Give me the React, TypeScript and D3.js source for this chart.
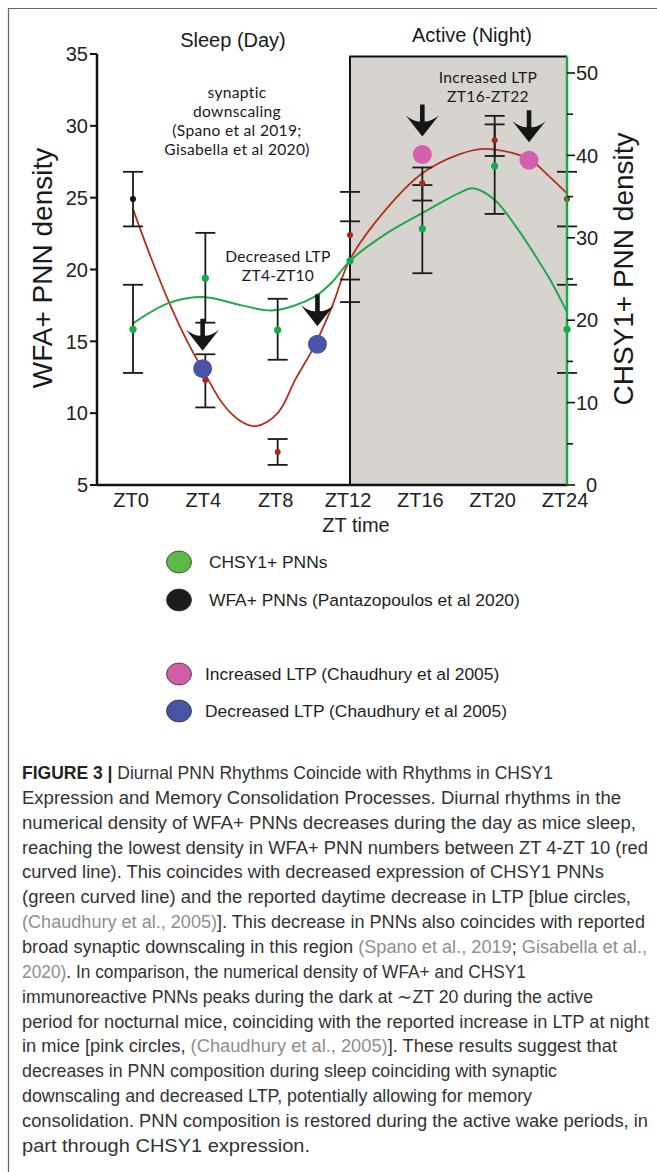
import React, { useEffect, useRef } from 'react';
import * as d3 from 'd3';

// x axis
const ztTicks = [0, 4, 8, 12, 16, 20, 24];
const ztLabels = ['ZT0', 'ZT4', 'ZT8', 'ZT12', 'ZT16', 'ZT20', 'ZT24'];
const leftTicks = [5, 10, 15, 20, 25, 30, 35];
const rightTicks = [0, 10, 20, 30, 40, 50];
const rightMinor = [5, 15, 25, 35, 45];

// WFA+ PNN density (left axis), mean and error bar ends
const wfaMean = [24.9, 12.3, 7.3, 22.4, 26.0, 29.0, 24.9];
const wfaLow = [23.0, 10.4, 6.4, 19.3, 24.8, 27.9, 23.0];
const wfaHigh = [26.8, 14.1, 8.2, 25.4, 27.1, 30.1, 26.8];

// CHSY1+ PNN density (right axis)
const chsyMean = [18.9, 25.1, 18.8, 27.2, 31.1, 38.7, 18.9];
const chsyLow = [13.6, 19.7, 15.2, 22.2, 25.7, 32.9, 13.6];
const chsyHigh = [24.3, 30.6, 22.6, 32.0, 36.4, 44.8, 24.3];

// fitted curves
const wfaFitZt = [0, 1, 2, 3, 4, 5, 6, 6.8, 8, 9, 10, 11, 12, 14, 16, 18, 19.4, 21, 22, 23, 24];
const wfaFitVal = [24.2, 20.8, 17.7, 15.0, 12.7, 10.6, 9.4, 9.1, 10.0, 12.4, 14.6, 17.4, 20.7, 24.2, 26.7, 28.0, 28.4, 28.1, 27.6, 26.5, 25.3];
const chsyFitZt = [0, 2, 4, 6, 7.8, 10, 11, 12, 14, 16, 18, 18.8, 20, 21.2, 22.2, 23.1, 24];
const chsyFitVal = [19.6, 22.1, 22.8, 21.8, 21.2, 22.8, 24.6, 27.2, 30.5, 33.0, 35.4, 36.0, 34.6, 31.3, 28.0, 24.8, 21.0];

// LTP markers (left axis units)
const ltpDecZt = [3.85, 10.2];
const ltpDecVal = [13.1, 14.8];
const ltpIncZt = [16, 21.9];
const ltpIncVal = [28.0, 27.6];

const legendItems = [
  { label: 'CHSY1+ PNNs', color: '#5cb947' },
  { label: 'WFA+ PNNs (Pantazopoulos et al 2020)', color: '#1c1c1c' },
  { label: 'Increased LTP (Chaudhury et al 2005)', color: '#d25ca8' },
  { label: 'Decreased LTP (Chaudhury et al 2005)', color: '#4654a3' },
];

// ** = bold, {} = citation link
const captionLines = [
  '**FIGURE 3 |** Diurnal PNN Rhythms Coincide with Rhythms in CHSY1',
  'Expression and Memory Consolidation Processes. Diurnal rhythms in the',
  'numerical density of WFA+ PNNs decreases during the day as mice sleep,',
  'reaching the lowest density in WFA+ PNN numbers between ZT 4-ZT 10 (red',
  'curved line). This coincides with decreased expression of CHSY1 PNNs',
  '(green curved line) and the reported daytime decrease in LTP [blue circles,',
  '{(Chaudhury et al., 2005)}]. This decrease in PNNs also coincides with reported',
  'broad synaptic downscaling in this region {(Spano et al., 2019}; {Gisabella et al.,}',
  '{2020)}. In comparison, the numerical density of WFA+ and CHSY1',
  'immunoreactive PNNs peaks during the dark at \u223CZT 20 during the active',
  'period for nocturnal mice, coinciding with the reported increase in LTP at night',
  'in mice [pink circles, {(Chaudhury et al., 2005)}]. These results suggest that',
  'decreases in PNN composition during sleep coinciding with synaptic',
  'downscaling and decreased LTP, potentially allowing for memory',
  'consolidation. PNN composition is restored during the active wake periods, in',
  'part through CHSY1 expression.',
];
const captionEnds = [553, 621, 636, 648, 604, 631, 645, 647, 526, 593, 649, 617, 557, 532, 648, 310];

const SANS = '"Liberation Sans", Arial, Helvetica, sans-serif';
const ANNOT = 'Lato, "Open Sans", sans-serif';

function App() {
  const ref = useRef<SVGSVGElement>(null);

  useEffect(() => {
    drawChart();
  }, []);

  function drawChart() {
    const svg = d3.select(ref.current);
    svg.selectAll('*').remove();

    const x = d3.scaleLinear().domain([0, 24]).range([133, 567]);
    const yL = d3.scaleLinear().domain([5, 35]).range([485, 54]);
    const yR = d3.scaleLinear().domain([0, 50]).range([485, 73]);
    const axisX = 97;
    const baseY = yL(5);

    // outer frame
    svg.append('path')
      .attr('d', 'M8.5,1172 L8.5,8.5 L657,8.5')
      .attr('fill', 'none')
      .attr('stroke', '#666')
      .attr('stroke-width', 1.2);

    // night shading
    svg.append('rect')
      .attr('x', x(12))
      .attr('y', yR(52))
      .attr('width', x(24) - x(12))
      .attr('height', baseY - yR(52))
      .attr('fill', '#d7d4cf');
    svg.append('path')
      .attr('d', `M${x(12)},${baseY} L${x(12)},${yR(52)} L${x(24)},${yR(52)}`)
      .attr('fill', 'none')
      .attr('stroke', '#111')
      .attr('stroke-width', 2);

    // fitted curves
    const curveL = d3.line<number>()
      .x((_, i) => x(wfaFitZt[i]))
      .y((d) => yL(d))
      .curve(d3.curveCatmullRom.alpha(0.5));
    svg.append('path')
      .attr('d', curveL(wfaFitVal))
      .attr('fill', 'none')
      .attr('stroke', '#b2301f')
      .attr('stroke-width', 1.8);

    const curveR = d3.line<number>()
      .x((_, i) => x(chsyFitZt[i]))
      .y((d) => yR(d))
      .curve(d3.curveCatmullRom.alpha(0.5));
    svg.append('path')
      .attr('d', curveR(chsyFitVal))
      .attr('fill', 'none')
      .attr('stroke', '#22a84a')
      .attr('stroke-width', 2);

    // error bars
    const drawErr = (lo: number[], hi: number[], y: d3.ScaleLinear<number, number>) => {
      const g = svg.append('g').attr('stroke', '#1a1a1a').attr('stroke-width', 1.8);
      ztTicks.forEach((t, i) => {
        const cx = x(t);
        g.append('line').attr('x1', cx).attr('x2', cx).attr('y1', y(lo[i])).attr('y2', y(hi[i]));
        [lo[i], hi[i]].forEach((v) => {
          g.append('line').attr('x1', cx - 10).attr('x2', cx + 10).attr('y1', y(v)).attr('y2', y(v));
        });
      });
    };
    drawErr(chsyLow, chsyHigh, yR);
    drawErr(wfaLow, wfaHigh, yL);

    // mean points
    svg.append('g').selectAll('circle')
      .data(wfaMean)
      .enter()
      .append('circle')
      .attr('cx', (_, i) => x(ztTicks[i]))
      .attr('cy', (d) => yL(d))
      .attr('r', 3)
      .attr('fill', (_, i) => (i === 0 ? '#111' : '#a8281c'));
    svg.append('g').selectAll('circle')
      .data(chsyMean)
      .enter()
      .append('circle')
      .attr('cx', (_, i) => x(ztTicks[i]))
      .attr('cy', (d) => yR(d))
      .attr('r', 3.6)
      .attr('fill', '#19ab4b');

    // LTP circles and arrows
    const arrow = (ax: number, ay: number) =>
      `M${ax},${ay} L${ax - 16.5},${ay - 21} Q${ax - 9},${ay - 15} ${ax - 2.3},${ay - 15} ` +
      `L${ax - 2.3},${ay - 32} L${ax + 2.3},${ay - 32} L${ax + 2.3},${ay - 15} ` +
      `Q${ax + 9},${ay - 15} ${ax + 16.5},${ay - 21} Z`;

    const drawLtp = (zts: number[], vals: number[], color: string) => {
      zts.forEach((t, i) => {
        const cx = x(t);
        const cy = yL(vals[i]);
        svg.append('circle').attr('cx', cx).attr('cy', cy).attr('r', 9.5).attr('fill', color);
        svg.append('path').attr('d', arrow(cx, cy - 18)).attr('fill', '#161616');
      });
    };
    drawLtp(ltpDecZt, ltpDecVal, '#4755a6');
    drawLtp(ltpIncZt, ltpIncVal, '#d45fac');

    // left axis
    svg.append('line')
      .attr('x1', axisX).attr('x2', axisX)
      .attr('y1', yL(35)).attr('y2', baseY)
      .attr('stroke', '#111').attr('stroke-width', 2.5);
    leftTicks.forEach((t) => {
      svg.append('line')
        .attr('x1', axisX - 7).attr('x2', axisX)
        .attr('y1', yL(t)).attr('y2', yL(t))
        .attr('stroke', '#111').attr('stroke-width', 2);
      svg.append('text')
        .attr('x', axisX - 9)
        .attr('y', yL(t))
        .attr('dy', '0.36em')
        .attr('text-anchor', 'end')
        .style('font-family', SANS)
        .style('font-size', '20px')
        .style('fill', '#222')
        .text(t);
    });

    // bottom axis
    svg.append('line')
      .attr('x1', axisX).attr('x2', x(24))
      .attr('y1', baseY).attr('y2', baseY)
      .attr('stroke', '#111').attr('stroke-width', 2.5);
    ztTicks.forEach((t, i) => {
      svg.append('text')
        .attr('x', x(t) - 2)
        .attr('y', baseY + 22)
        .attr('text-anchor', 'middle')
        .style('font-family', SANS)
        .style('font-size', '20px')
        .style('fill', '#222')
        .text(ztLabels[i]);
    });
    svg.append('text')
      .attr('x', 356)
      .attr('y', 532)
      .attr('text-anchor', 'middle')
      .style('font-family', SANS)
      .style('font-size', '20px')
      .style('fill', '#222')
      .text('ZT time');

    // right axis
    svg.append('line')
      .attr('x1', x(24)).attr('x2', x(24))
      .attr('y1', yR(52)).attr('y2', baseY)
      .attr('stroke', '#1ea64b').attr('stroke-width', 2.5);
    rightTicks.forEach((t) => {
      svg.append('line')
        .attr('x1', x(24)).attr('x2', x(24) + 8)
        .attr('y1', yR(t)).attr('y2', yR(t))
        .attr('stroke', '#111').attr('stroke-width', 1.6);
      svg.append('text')
        .attr('x', x(24) + (t === 0 ? 19 : 9))
        .attr('y', yR(t))
        .attr('dy', '0.36em')
        .style('font-family', SANS)
        .style('font-size', '20px')
        .style('fill', '#222')
        .text(t);
    });
    rightMinor.forEach((t) => {
      svg.append('line')
        .attr('x1', x(24)).attr('x2', x(24) + 6)
        .attr('y1', yR(t)).attr('y2', yR(t))
        .attr('stroke', '#111').attr('stroke-width', 1.6);
    });

    // axis titles
    svg.append('text')
      .attr('transform', 'translate(52,268) rotate(-90)')
      .attr('text-anchor', 'middle')
      .style('font-family', SANS)
      .style('font-size', '28px')
      .style('fill', '#1a1a1a')
      .text('WFA+ PNN density');
    svg.append('text')
      .attr('transform', 'translate(633,269) rotate(-90)')
      .attr('text-anchor', 'middle')
      .style('font-family', SANS)
      .style('font-size', '28px')
      .style('fill', '#1a1a1a')
      .text('CHSY1+ PNN density');

    // period titles
    svg.append('text')
      .attr('x', 233).attr('y', 47)
      .attr('text-anchor', 'middle')
      .style('font-family', SANS)
      .style('font-size', '20px')
      .style('fill', '#1a1a1a')
      .text('Sleep (Day)');
    svg.append('text')
      .attr('x', 472).attr('y', 42)
      .attr('text-anchor', 'middle')
      .style('font-family', SANS)
      .style('font-size', '20px')
      .style('fill', '#1a1a1a')
      .text('Active (Night)');

    // annotations
    const annot = (lines: string[], cx: number, y0: number) => {
      lines.forEach((l, i) => {
        svg.append('text')
          .attr('x', cx).attr('y', y0 + i * 19)
          .attr('text-anchor', 'middle')
          .style('font-family', ANNOT)
          .style('font-size', '15.6px')
          .style('letter-spacing', '0.3px')
          .style('fill', '#1a1a1a')
          .text(l);
      });
    };
    annot(['synaptic', 'downscaling', '(Spano et al 2019;', 'Gisabella et al 2020)'], 237, 98);
    annot(['Decreased LTP', 'ZT4-ZT10'], 278, 262);
    annot(['Increased LTP', 'ZT16-ZT22'], 488, 83);

    // legend
    const legendY = [562, 600, 674, 711];
    legendItems.forEach((item, i) => {
      svg.append('ellipse')
        .attr('cx', 179).attr('cy', legendY[i])
        .attr('rx', 12.5).attr('ry', 11)
        .attr('fill', item.color)
        .attr('stroke', '#333').attr('stroke-width', 0.8);
      svg.append('text')
        .attr('x', i < 2 ? 209 : 205)
        .attr('y', legendY[i] + 6)
        .style('font-family', SANS)
        .style('font-size', '17.4px')
        .style('fill', '#1e1e1e')
        .text(item.label);
    });

    // caption
    captionLines.forEach((line, i) => {
      const t = svg.append('text')
        .attr('x', 22)
        .attr('y', 779 + i * 24.86)
        .attr('textLength', captionEnds[i] - 22)
        .attr('lengthAdjust', 'spacingAndGlyphs')
        .style('font-family', SANS)
        .style('font-size', '17.5px')
        .style('fill', '#333');
      line.split(/(\*\*.*?\*\*|\{.*?\})/).filter((s) => s.length).forEach((seg) => {
        if (seg.startsWith('**')) {
          t.append('tspan').style('font-weight', 'bold').style('fill', '#222').text(seg.slice(2, -2));
        } else if (seg.startsWith('{')) {
          t.append('tspan').style('fill', '#8e8e8e').text(seg.slice(1, -1));
        } else {
          t.append('tspan').text(seg);
        }
      });
    });
  }

  return (
    <svg
      ref={ref}
      width={657}
      height={1172}
      style={{ position: 'absolute', left: 0, top: 0, background: '#fff' }}
    />
  );
}

export default App;
